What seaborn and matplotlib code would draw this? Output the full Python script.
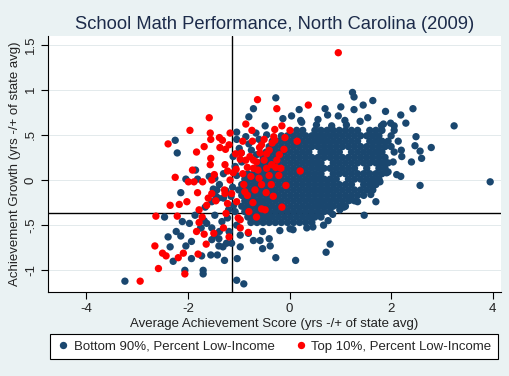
import matplotlib
matplotlib.use("Agg")
import matplotlib.pyplot as plt
import numpy as np
import pandas as pd
import seaborn as sns

# reference cut-offs (bottom 10% of achievement / growth)
score_cut = -1.13
growth_cut = -0.36

# dense core of the blue cloud, read row by row
core_row_y = [0.55, 0.49, 0.43, 0.37, 0.31, 0.25, 0.19, 0.13, 0.07,
              0.01, -0.05, -0.11, -0.17, -0.23, -0.29, -0.35, -0.41, -0.47]
core_row_x = [
    [0.14, 0.26, 0.50, 0.62, 0.74, 0.86, 0.98, 1.10, 1.22, 1.34, 1.58, 1.70, 1.82, 2.06],
    [-0.16, -0.04, 0.08, 0.20, 0.32, 0.44, 0.56, 0.68, 0.80, 0.92, 1.04, 1.16, 1.28, 1.40, 1.52, 1.64, 1.76, 2.00],
    [-0.34, -0.22, -0.10, 0.02, 0.14, 0.26, 0.38, 0.50, 0.62, 0.74, 0.86, 0.98, 1.10, 1.22, 1.34, 1.58, 1.70, 1.82, 1.94],
    [-0.40, -0.28, -0.16, -0.04, 0.08, 0.20, 0.32, 0.44, 0.56, 0.68, 0.80, 0.92, 1.04, 1.16, 1.28, 1.40, 1.52, 1.64, 1.76, 1.88, 2.00],
    [-0.46, -0.34, -0.22, -0.10, 0.02, 0.14, 0.26, 0.38, 0.62, 0.74, 0.86, 0.98, 1.22, 1.34, 1.46, 1.58, 1.70, 1.82, 2.06],
    [-0.52, -0.40, -0.28, -0.16, -0.04, 0.08, 0.20, 0.32, 0.44, 0.56, 0.68, 0.80, 0.92, 1.04, 1.16, 1.28, 1.40, 1.52, 1.64, 1.76, 1.88],
    [-0.58, -0.46, -0.34, -0.22, -0.10, 0.02, 0.14, 0.26, 0.38, 0.50, 0.62, 0.86, 0.98, 1.10, 1.22, 1.34, 1.46, 1.58, 1.70, 1.82, 1.94],
    [-0.64, -0.52, -0.40, -0.28, -0.16, -0.04, 0.08, 0.20, 0.32, 0.44, 0.56, 0.68, 0.80, 0.92, 1.04, 1.16, 1.28, 1.52, 1.76, 1.88],
    [-0.82, -0.70, -0.58, -0.46, -0.34, -0.22, -0.10, 0.02, 0.14, 0.26, 0.38, 0.50, 0.62, 0.86, 0.98, 1.10, 1.22, 1.34, 1.46, 1.58, 1.70, 1.82],
    [-0.88, -0.76, -0.64, -0.52, -0.40, -0.28, -0.16, -0.04, 0.08, 0.20, 0.32, 0.44, 0.56, 0.68, 0.80, 0.92, 1.16, 1.28, 1.40, 1.52, 1.64, 1.76],
    [-0.94, -0.82, -0.70, -0.58, -0.46, -0.34, -0.22, -0.10, 0.02, 0.14, 0.26, 0.38, 0.50, 0.62, 0.74, 0.86, 0.98, 1.10, 1.22, 1.46, 1.58, 1.70],
    [-1.00, -0.88, -0.76, -0.64, -0.52, -0.40, -0.28, -0.16, -0.04, 0.08, 0.20, 0.32, 0.44, 0.56, 0.68, 0.80, 0.92, 1.04, 1.16, 1.28, 1.40, 1.52, 1.64],
    [-0.94, -0.82, -0.70, -0.58, -0.46, -0.34, -0.22, -0.10, 0.02, 0.14, 0.26, 0.38, 0.50, 0.62, 0.74, 0.86, 0.98, 1.10, 1.22, 1.34, 1.46],
    [-0.88, -0.76, -0.64, -0.52, -0.40, -0.28, -0.16, -0.04, 0.08, 0.20, 0.32, 0.44, 0.56, 0.68, 0.80, 0.92, 1.04, 1.16, 1.28],
    [-0.94, -0.82, -0.70, -0.58, -0.46, -0.34, -0.22, -0.10, 0.02, 0.14, 0.26, 0.38, 0.50, 0.62, 0.74, 0.86, 0.98, 1.10],
    [-0.88, -0.76, -0.64, -0.52, -0.40, -0.28, -0.16, -0.04, 0.08, 0.20, 0.32, 0.44, 0.56, 0.68, 0.80],
    [-0.82, -0.70, -0.58, -0.46, -0.34, -0.22, -0.10, 0.02, 0.14, 0.26, 0.38, 0.50, 0.62],
    [-0.76, -0.64, -0.52, -0.40, -0.28, -0.16, -0.04, 0.08, 0.20, 0.32, 0.44],
]

# scattered blue schools around the core
edge_x = [-0.27, -0.71, -0.80, -0.48, -0.66, -1.04, -0.86, -1.04, -0.99, -2.25, -2.21,
          -0.13, 0.04, 0.19, 0.22, 0.56, 0.70, 0.75, 0.96, 1.01, 1.09, 1.24, 1.27, 1.27,
          1.45, 1.64, 1.54, 1.39, 1.89, 2.43, 2.19, 2.29, 1.85, 2.06, 1.99, 1.81, 1.12,
          0.83, 0.53, 0.24,
          3.24, 2.49, 2.14, 2.47, 2.57, 2.79, 2.20, 2.60, 2.40, 2.21, 2.04, 1.94, 2.11,
          2.19, 1.91, 2.57, 3.95, 1.78, 1.64, 1.60, 1.70, 1.47, 1.34, 1.20, 1.07, 0.99,
          0.85, 0.83, 0.76, 0.67, 0.46, 0.34, 0.07, 0.01, -0.19,
          0.80, 0.72, 0.12, -0.27, -0.38, -0.40, -0.53, -0.58, -0.71, -0.53, -0.81,
          -0.97, -0.97, -1.03, -1.04, -0.90, -3.24,
          -2.14, -2.46, -2.11, -1.97, -1.86, -1.68, -1.74, -2.23, -2.14, -2.39, -2.35,
          -2.04, -1.93, -1.53, -1.47, -1.39, -1.19, -1.14, -1.24, -1.31, -1.39, -2.29,
          -1.93, -1.73, -1.55, -1.42, -1.28, -2.06, -1.70, -1.70,
          -1.66, -1.53, -1.40, -1.47, -1.33, -1.22, -1.07, -1.04, -1.38, -1.53, -1.63,
          -1.75, -1.50, -1.38, -1.25, -1.12, -1.45, -1.30, -1.15, -1.10, -1.20,
          -1.85, -2.04, -1.81, -1.58, -1.47, -1.43, -1.30, -1.07, -1.11, -0.94, -1.04,
          -0.95, -0.80, -0.60, -0.45, -0.75, -0.65]
edge_y = [0.91, 0.79, 0.70, 0.60, 0.52, 0.53, 0.48, 0.45, 0.35, 0.44, 0.30,
          0.68, 0.71, 0.78, 0.66, 0.67, 0.79, 0.72, 0.71, 0.81, 0.66, 0.97, 0.92, 0.78,
          0.83, 0.88, 0.69, 0.65, 0.76, 0.79, 0.72, 0.63, 0.62, 0.60, 0.63, 0.60, 0.61,
          0.60, 0.61, 0.64,
          0.60, 0.48, 0.43, 0.38, 0.32, 0.36, 0.33, 0.24, 0.20, 0.26, 0.20, 0.09, 0.06,
          0.04, 0.08, -0.06, -0.02, -0.02, -0.04, -0.16, -0.24, -0.39, -0.24, -0.22, -0.30, -0.33,
          -0.38, -0.29, -0.45, -0.50, -0.52, -0.53, -0.55, -0.54, -0.56,
          -0.71, -0.80, -0.89, -0.86, -0.73, -0.65, -0.76, -0.67, -0.67, -0.57, -0.59,
          -0.74, -0.61, -0.87, -1.11, -1.15, -1.12,
          -0.14, -0.41, -0.46, -0.48, -0.39, -0.45, -0.53, -0.57, -0.62, -0.63, -0.74,
          -0.73, -0.68, -0.66, -0.61, -0.65, -0.57, -0.70, -0.70, -0.74, -0.73, -0.90,
          -0.87, -0.84, -0.83, -0.83, -0.89, -1.00, -1.00, -1.04,
          -0.30, -0.24, -0.20, -0.39, -0.46, -0.42, -0.35, -0.50, -0.57, -0.53, -0.48,
          -0.53, -0.10, -0.05, -0.12, -0.08, -0.18, -0.20, -0.18, -0.28, -0.33,
          0.11, 0.01, 0.01, 0.04, 0.02, -0.11, 0.07, 0.15, 0.26, 0.20, 0.05,
          0.30, 0.40, 0.45, 0.50, 0.33, 0.28]

# schools in the top 10% of low-income share
red_x = [0.96, -0.63, -0.25, 0.37, -0.86, -1.58, -1.96, -1.56, -1.17, -0.74, -2.39,
         -1.55, -1.38, -1.32, -1.68, -1.83, -1.37, -1.26, -1.19, -1.55, -0.92, -0.73,
         -0.29, -0.15, 0.01, -0.59, -1.56, -1.27, -1.91, -2.25, -1.99, -1.88, -1.71,
         -1.53, -1.22, -1.17, -1.05, -0.83, -0.78, -0.86, -0.71, -0.45, -0.40, -0.34,
         -0.29, -0.11, 0.15, -0.35, -0.27, -0.17, 0.21, -0.07, -0.15, -0.46, -0.32,
         -0.48, -1.81, -1.60, -1.53, -1.45, -1.63, -1.27, -1.22, -1.25, -0.83, -0.68,
         -1.01, -0.97, -0.81, -1.19, -1.30, -1.49, -1.64, -1.68, -1.83, -1.78, -1.72,
         -1.78, -2.02, -2.17, -2.35, -2.63, -2.21, -2.65, -2.50, -2.43, -2.19, -2.09,
         -1.80, -2.58, -2.06, -2.94, -1.11, -0.97, -0.65, -0.58, -0.71, -1.48, -1.28,
         -1.14, -1.04, -0.88, -0.72, -0.55, -0.97, -0.60, -0.40,
         -0.50, -0.55, -0.45, -0.50, -0.20, -0.25, -0.62, -0.76, -0.92, -0.95, -1.06,
         -0.36, -0.21, -0.55, -0.90, -0.31, -0.09, -0.80, -0.65]
red_y = [1.41, 0.89, 0.79, 0.83, 0.62, 0.69, 0.55, 0.52, 0.52, 0.55, 0.40,
         0.45, 0.47, 0.44, 0.37, 0.31, 0.36, 0.34, 0.39, 0.24, 0.43, 0.43,
         0.56, 0.60, 0.55, 0.36, 0.17, 0.17, 0.11, 0.03, -0.02, -0.02, -0.02,
         0.00, 0.10, 0.00, 0.12, 0.14, 0.26, 0.22, 0.22, 0.13, 0.33, 0.41,
         0.44, 0.34, 0.43, 0.17, 0.14, 0.13, 0.10, -0.06, -0.30, -0.14, -0.18,
         -0.33, -0.14, -0.20, -0.15, -0.23, -0.28, -0.15, -0.26, -0.37, -0.17, -0.11,
         -0.42, -0.53, -0.58, -0.63, -0.53, -0.59, -0.71, -0.60, -0.57, -0.47, -0.41,
         -0.33, -0.24, -0.27, -0.28, -0.40, -0.40, -0.73, -0.81, -0.84, -0.86, -0.81,
         -0.82, -0.98, -1.04, -1.12, 0.08, 0.23, 0.20, 0.30, 0.13, 0.06, -0.11,
         -0.15, -0.24, -0.13, -0.25, -0.32, -0.44, 0.02, 0.05,
         0.45, 0.39, 0.29, 0.22, 0.28, 0.22, 0.11, 0.04, 0.07, 0.30, 0.29,
         -0.05, 0.05, -0.05, -0.05, 0.48, 0.47, -0.35, -0.41]

low_label = "Bottom 90%, Percent Low-Income"
high_label = "Top 10%, Percent Low-Income"

blue_x, blue_y = [], []
for yy, xs in zip(core_row_y, core_row_x):
    blue_x += xs
    blue_y += [yy] * len(xs)
blue_x += edge_x
blue_y += edge_y

df = pd.DataFrame({
    "score": blue_x + red_x,
    "growth": blue_y + red_y,
    "group": [low_label] * len(blue_x) + [high_label] * len(red_x),
})

sns.set_style("white")
plt.rcParams["font.family"] = ["Liberation Sans", "DejaVu Sans"]
plt.rcParams["axes.unicode_minus"] = False

bg = "#eaf2f3"
fig = plt.figure(figsize=(5.1, 3.76), dpi=100, facecolor=bg)
ax = fig.add_axes([48 / 510, 84 / 376, 453 / 510, 256 / 376])
ax.set_facecolor("white")

ax.yaxis.grid(True, color="#e3eaec", lw=0.7)
ax.set_axisbelow(True)

sns.scatterplot(data=df, x="score", y="growth", hue="group",
                hue_order=[low_label, high_label],
                palette={low_label: "#1a476f", high_label: "#ff0000"},
                s=28, linewidth=0, ax=ax, zorder=3)

ax.axvline(score_cut, color="black", lw=1.0, zorder=2)
ax.axhline(growth_cut, color="black", lw=1.0, zorder=2)

ax.set_xlim(-4.754, 4.163)
ax.set_ylim(-1.240, 1.595)
ax.set_xticks([-4, -2, 0, 2, 4])
ax.set_xticklabels(["-4", "-2", "0", "2", "4"])
ax.set_yticks([-1, -0.5, 0, 0.5, 1, 1.5])
ax.set_yticklabels(["-1", "-.5", "0", ".5", "1", "1.5"], rotation=90, va="center")

for side in ["top", "right"]:
    ax.spines[side].set_visible(False)
for side in ["left", "bottom"]:
    ax.spines[side].set_color("black")
    ax.spines[side].set_linewidth(0.8)

ax.tick_params(axis="both", bottom=True, left=True, direction="out",
               length=5, width=0.8, color="black", labelsize=9.5,
               labelcolor="#222222", pad=3)

ax.set_xlabel("Average Achievement Score (yrs -/+ of state avg)",
              fontsize=9.5, color="#222222", labelpad=2)
ax.set_ylabel("Achievement Growth (yrs -/+ of state avg)",
              fontsize=9.5, color="#222222", labelpad=3)
ax.set_title("School Math Performance, North Carolina (2009)",
             fontsize=13.2, color="#1c2b4a", pad=5)

sns.move_legend(ax, "center", bbox_to_anchor=(0.499, -0.2137), ncol=2,
                title=None, frameon=True, fancybox=False, fontsize=9.5,
                handletextpad=0.3, columnspacing=1.5, borderpad=0.5,
                handlelength=1.0, edgecolor="black", framealpha=1)
leg = ax.get_legend()
leg.get_frame().set_linewidth(0.8)
leg.get_frame().set_facecolor("white")

fig.savefig("out.png", dpi=100, facecolor=fig.get_facecolor())
